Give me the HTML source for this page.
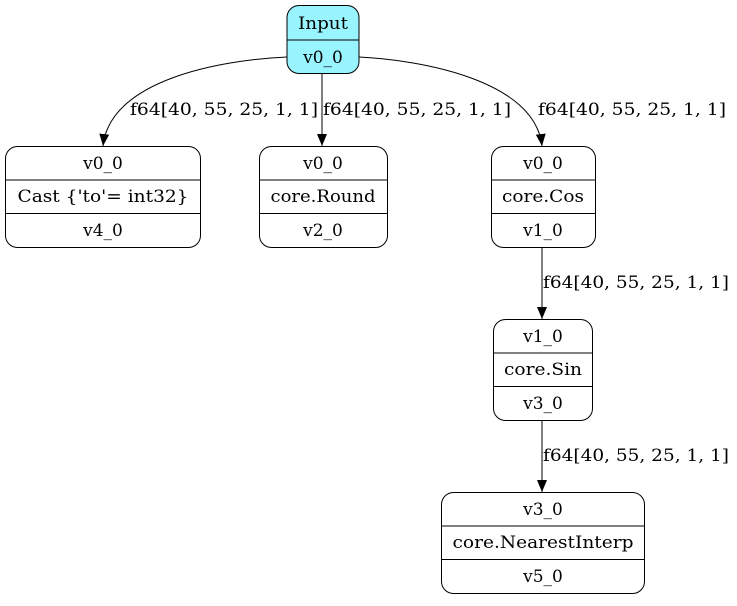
<!DOCTYPE html>
<html><head><meta charset="utf-8"><style>
html,body{margin:0;padding:0;background:#fff;}
text{font-family:"DejaVu Serif","Liberation Serif",serif;font-size:17px;fill:#000;}
</style></head><body>
<svg width="737" height="601" viewBox="0 0 737 601" xmlns="http://www.w3.org/2000/svg">
<defs><marker id="a" markerWidth="12" markerHeight="10" refX="12" refY="5" orient="auto" markerUnits="userSpaceOnUse" viewBox="0 0 12 10"><path d="M0,0 L12,5 L0,10 Z" fill="#000"/></marker></defs>
<g fill="none" stroke="#000" stroke-width="1">
<rect x="287" y="5.5" width="72" height="68" rx="12" fill="#98f5ff"/>
<line x1="287" y1="40" x2="359" y2="40"/>
<rect x="5.5" y="146.5" width="195" height="101" rx="12"/>
<line x1="5.5" y1="180" x2="200.5" y2="180"/><line x1="5.5" y1="213.5" x2="200.5" y2="213.5"/>
<rect x="259.5" y="146.5" width="128" height="101" rx="12"/>
<line x1="259.5" y1="180" x2="387.5" y2="180"/><line x1="259.5" y1="213.5" x2="387.5" y2="213.5"/>
<rect x="491.5" y="146.5" width="104" height="101" rx="12"/>
<line x1="491.5" y1="180" x2="595.5" y2="180"/><line x1="491.5" y1="213.5" x2="595.5" y2="213.5"/>
<rect x="493.5" y="319.5" width="99" height="101" rx="12"/>
<line x1="493.5" y1="353" x2="592.5" y2="353"/><line x1="493.5" y1="386.5" x2="592.5" y2="386.5"/>
<rect x="441.5" y="492.5" width="203" height="101" rx="12"/>
<line x1="441.5" y1="526" x2="644.5" y2="526"/><line x1="441.5" y1="559.5" x2="644.5" y2="559.5"/>
<path d="M287,57 C220,60 110,80 103,146" marker-end="url(#a)"/>
<path d="M322,74 L322,146" marker-end="url(#a)"/>
<path d="M359,57 C420,60 535,80 542,146" marker-end="url(#a)"/>
<path d="M542,248 L542,319" marker-end="url(#a)"/>
<path d="M542,421 L542,492" marker-end="url(#a)"/>
</g>
<g text-anchor="middle">
<text x="323" y="29" textLength="50" lengthAdjust="spacingAndGlyphs">Input</text><text x="323" y="63">v0_0</text>
<text x="103" y="169">v0_0</text><text x="103" y="202" textLength="171" lengthAdjust="spacingAndGlyphs">Cast {'to'= int32}</text><text x="103" y="236">v4_0</text>
<text x="323" y="169">v0_0</text><text x="323" y="202" textLength="105" lengthAdjust="spacingAndGlyphs">core.Round</text><text x="323" y="236">v2_0</text>
<text x="543" y="169">v0_0</text><text x="543" y="202" textLength="82" lengthAdjust="spacingAndGlyphs">core.Cos</text><text x="543" y="236">v1_0</text>
<text x="543" y="342">v1_0</text><text x="543" y="375" textLength="78" lengthAdjust="spacingAndGlyphs">core.Sin</text><text x="543" y="409">v3_0</text>
<text x="543" y="515">v3_0</text><text x="543" y="548" textLength="181" lengthAdjust="spacingAndGlyphs">core.NearestInterp</text><text x="543" y="582">v5_0</text>
</g>
<g>
<text x="130" y="115" textLength="188" lengthAdjust="spacingAndGlyphs">f64[40, 55, 25, 1, 1]</text>
<text x="323" y="115" textLength="188" lengthAdjust="spacingAndGlyphs">f64[40, 55, 25, 1, 1]</text>
<text x="538" y="115" textLength="188" lengthAdjust="spacingAndGlyphs">f64[40, 55, 25, 1, 1]</text>
<text x="543" y="288" textLength="186" lengthAdjust="spacingAndGlyphs">f64[40, 55, 25, 1, 1]</text>
<text x="543" y="461" textLength="186" lengthAdjust="spacingAndGlyphs">f64[40, 55, 25, 1, 1]</text>
</g>
</svg>
</body></html>
